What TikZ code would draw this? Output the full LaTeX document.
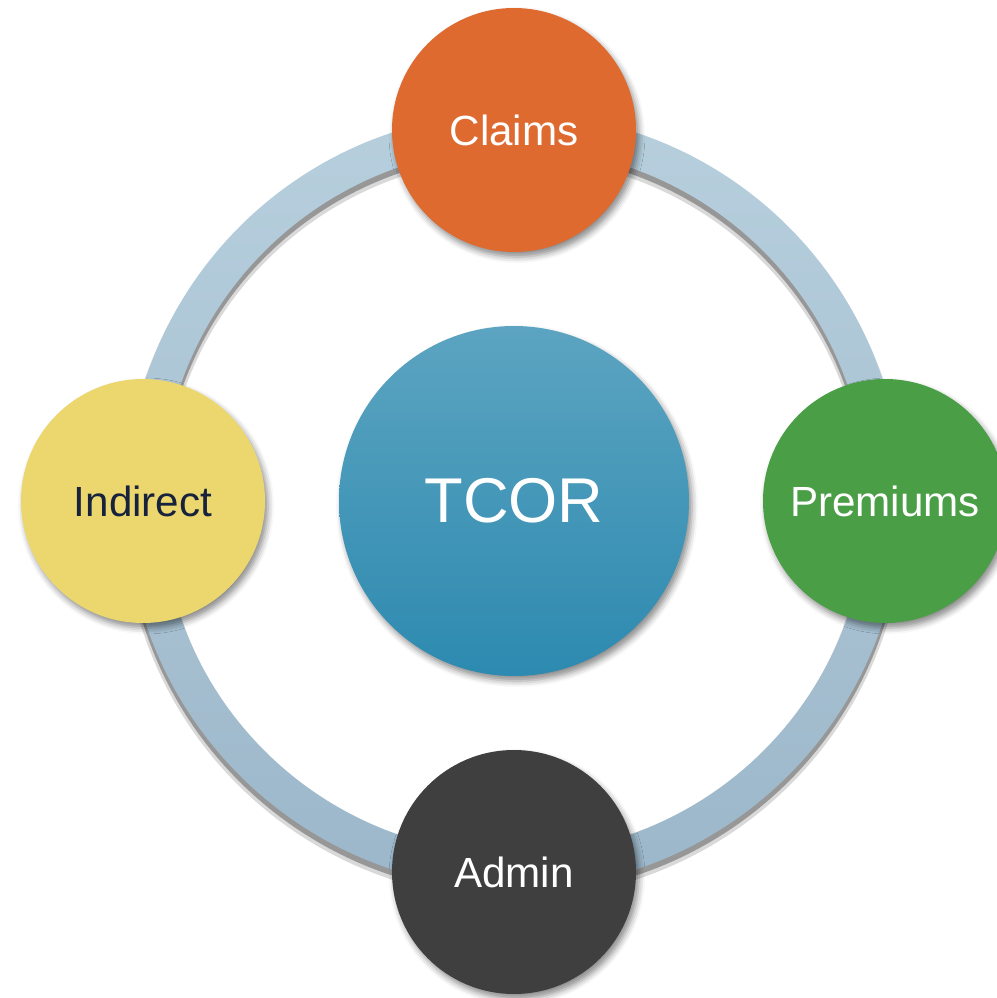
\documentclass[tikz,border=0pt]{standalone}
\usepackage{fontspec}
\setmainfont{Liberation Sans}
\usepackage{tikz}
\usetikzlibrary{positioning, shadows.blur, backgrounds, calc}

\definecolor{claimsorange}{HTML}{DF6A2F}
\definecolor{premiumsgreen}{HTML}{4A9E45}
\definecolor{indirectyellow}{HTML}{ECD76F}
\definecolor{indirectnavy}{HTML}{17223D}
\definecolor{admingray}{HTML}{3F3F3F}
\definecolor{tcortop}{HTML}{5CA4C1}
\definecolor{tcorbottom}{HTML}{2D8AB0}
\definecolor{ringtop}{HTML}{B7CFDD}
\definecolor{ringbottom}{HTML}{9CB7CA}

\begin{document}
\begin{tikzpicture}[
        node distance=3.71cm,
        blob/.style={circle, minimum size=2.44cm, inner sep=0pt, text=white,
            font=\fontsize{12}{14}\selectfont,
            blur shadow={shadow xshift=0.3mm, shadow yshift=-0.5mm,
                shadow blur radius=0.6mm, shadow opacity=45}},
        hub/.style={blob, minimum size=3.5cm, top color=tcortop, bottom color=tcorbottom,
            font=\fontsize{18}{22}\selectfont}
    ]
    \useasboundingbox (0,0) rectangle (9.97,9.98);
    \clip (0,0) rectangle (9.97,9.98);

    \node[hub] (tcor) at (5.14,4.97) {TCOR};
    \node[blob, fill=claimsorange, above of=tcor] (claims) {Claims};
    \node[blob, fill=premiumsgreen, right of=tcor] (premiums) {Premiums};
    \node[blob, fill=indirectyellow, text=indirectnavy, left of=tcor] (indirect) {Indirect};
    \node[blob, fill=admingray, below of=tcor] (admin) {Admin};

    \begin{pgfonlayer}{background}
        \fill[black, opacity=.15, even odd rule]
            ([yshift=-0.7mm]tcor.center) circle (3.91cm) ([yshift=-0.7mm]tcor.center) circle (3.50cm);
        \fill[black, opacity=.3, even odd rule]
            ([yshift=-0.5mm]tcor.center) circle (3.89cm) ([yshift=-0.5mm]tcor.center) circle (3.52cm);
        \shade[even odd rule, top color=ringtop, bottom color=ringbottom]
            (tcor.center) circle (3.88cm) (tcor.center) circle (3.53cm);
    \end{pgfonlayer}
\end{tikzpicture}
\end{document}
